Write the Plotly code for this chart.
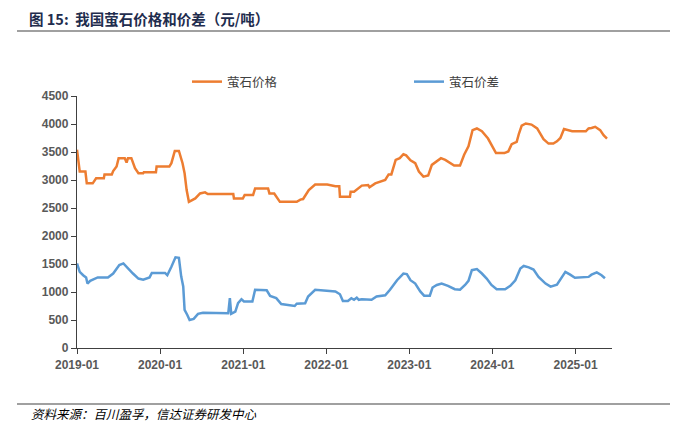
import plotly.graph_objects as go

price_dates = [
    "2019-01-01", "2019-01-13", "2019-02-07", "2019-02-13", "2019-03-11", "2019-03-26", "2019-04-29",
    "2019-05-02", "2019-06-03", "2019-06-09", "2019-06-24", "2019-07-03", "2019-07-30", "2019-08-07",
    "2019-08-13", "2019-08-28", "2019-09-13", "2019-09-28", "2019-10-19", "2019-10-22", "2019-12-14",
    "2019-12-17", "2020-02-11", "2020-02-20", "2020-03-06", "2020-03-24", "2020-04-09", "2020-04-18",
    "2020-04-27", "2020-05-07", "2020-06-04", "2020-06-25", "2020-07-17", "2020-07-29", "2020-11-18",
    "2020-11-21", "2020-12-30", "2021-01-07", "2021-02-13", "2021-02-22", "2021-04-20", "2021-04-26",
    "2021-05-17", "2021-06-11", "2021-08-24", "2021-09-09", "2021-09-21", "2021-10-16", "2021-11-13",
    "2022-01-05", "2022-02-10", "2022-02-27", "2022-03-02", "2022-04-15", "2022-04-18", "2022-05-03",
    "2022-06-06", "2022-07-04", "2022-07-10", "2022-08-04", "2022-09-17", "2022-10-02", "2022-10-14",
    "2022-11-02", "2022-11-20", "2022-12-06", "2022-12-18", "2023-01-06", "2023-01-27", "2023-02-12",
    "2023-03-04", "2023-03-25", "2023-04-10", "2023-05-02", "2023-05-20", "2023-06-08", "2023-06-29",
    "2023-07-17", "2023-08-12", "2023-08-30", "2023-09-18", "2023-10-06", "2023-10-25", "2023-11-16",
    "2023-12-13", "2023-12-28", "2024-01-17", "2024-02-23", "2024-03-11", "2024-03-26", "2024-04-17",
    "2024-04-27", "2024-05-09", "2024-05-27", "2024-06-21", "2024-07-16", "2024-07-28", "2024-08-13",
    "2024-09-04", "2024-09-25", "2024-10-11", "2024-10-26", "2024-11-11", "2024-12-02", "2024-12-17",
    "2025-02-15", "2025-02-27", "2025-03-12", "2025-03-28", "2025-04-19", "2025-05-04", "2025-05-19",
]
price_values = [
    3540, 3150, 3150, 2940, 2940, 3030, 3030,
    3100, 3100, 3160, 3240, 3390, 3390, 3310,
    3390, 3390, 3210, 3120, 3120, 3140, 3140,
    3240, 3240, 3300, 3520, 3520, 3300, 3120,
    2820, 2610, 2670, 2760, 2780, 2750, 2750,
    2670, 2670, 2730, 2730, 2850, 2850, 2760,
    2760, 2610, 2610, 2650, 2660, 2820, 2920,
    2920, 2890, 2890, 2700, 2700, 2790, 2790,
    2900, 2910, 2870, 2940, 3000, 3100, 3100,
    3360, 3390, 3460, 3440, 3350, 3300, 3150,
    3060, 3080, 3270, 3330, 3390, 3360, 3300,
    3260, 3260, 3450, 3600, 3890, 3920, 3870,
    3740, 3620, 3480, 3480, 3510, 3640, 3680,
    3830, 3970, 4010, 3990, 3920, 3830, 3730,
    3650, 3650, 3690, 3750, 3910, 3890, 3870,
    3870, 3920, 3930, 3950, 3890, 3800, 3740,
]

spread_dates = [
    "2019-01-01", "2019-01-13", "2019-01-28", "2019-02-10", "2019-02-16", "2019-02-28", "2019-04-02",
    "2019-05-17", "2019-06-09", "2019-07-06", "2019-07-24", "2019-08-13", "2019-09-04", "2019-09-28",
    "2019-10-19", "2019-11-16", "2019-11-26", "2020-01-23", "2020-02-02", "2020-02-20", "2020-03-09",
    "2020-03-24", "2020-04-03", "2020-04-12", "2020-04-18", "2020-04-30", "2020-05-10", "2020-05-28",
    "2020-06-16", "2020-07-08", "2020-10-21", "2020-10-27", "2020-11-03", "2020-11-09", "2020-11-27",
    "2020-12-09", "2020-12-24", "2021-01-04", "2021-02-10", "2021-02-22", "2021-04-14", "2021-04-29",
    "2021-05-26", "2021-06-17", "2021-08-15", "2021-08-24", "2021-09-30", "2021-10-13", "2021-11-13",
    "2021-12-25", "2022-02-10", "2022-03-02", "2022-03-15", "2022-04-06", "2022-04-21", "2022-05-03",
    "2022-05-15", "2022-05-24", "2022-06-06", "2022-07-19", "2022-08-10", "2022-09-17", "2022-10-08",
    "2022-11-08", "2022-12-06", "2022-12-21", "2023-01-06", "2023-01-27", "2023-02-18", "2023-03-07",
    "2023-04-01", "2023-04-13", "2023-05-02", "2023-05-23", "2023-06-20", "2023-07-20", "2023-08-12",
    "2023-09-03", "2023-09-18", "2023-10-03", "2023-10-25", "2023-11-16", "2023-12-07", "2023-12-28",
    "2024-01-20", "2024-02-26", "2024-03-20", "2024-04-11", "2024-05-03", "2024-05-18", "2024-06-09",
    "2024-06-30", "2024-07-22", "2024-08-22", "2024-09-13", "2024-10-11", "2024-11-02", "2024-11-17",
    "2024-12-08", "2024-12-29", "2025-02-27", "2025-03-12", "2025-04-04", "2025-04-25", "2025-05-10",
]
spread_values = [
    1510, 1360, 1300, 1260, 1150, 1200, 1260,
    1260, 1330, 1480, 1510, 1420, 1330, 1240,
    1220, 1260, 1340, 1340, 1300, 1450, 1620,
    1610, 1280, 1100, 680, 590, 500, 520,
    610, 630, 630, 620, 890, 610, 650,
    800, 870, 830, 830, 1040, 1030, 930,
    890, 785, 750, 790, 800, 920, 1040,
    1030, 1010, 960, 840, 840, 890, 860,
    900, 860, 870, 860, 920, 940, 1040,
    1210, 1330, 1320, 1210, 1150, 1010, 935,
    935, 1080, 1125, 1150, 1110, 1050, 1040,
    1125, 1200, 1390, 1410, 1330, 1240, 1125,
    1050, 1050, 1110, 1210, 1420, 1465, 1440,
    1400, 1270, 1150, 1095, 1130, 1270, 1360,
    1310, 1255, 1270, 1310, 1350, 1300, 1245,
]

series_names = ["萤石价格", "萤石价差"]
x_ticks = ["2019-01-01", "2020-01-01", "2021-01-01", "2022-01-01", "2023-01-01", "2024-01-01", "2025-01-01"]
x_tick_labels = ["2019-01", "2020-01", "2021-01", "2022-01", "2023-01", "2024-01", "2025-01"]
y_ticks = [0, 500, 1000, 1500, 2000, 2500, 3000, 3500, 4000, 4500]

ORANGE = "#ED7D31"
BLUE = "#5B9BD5"
CJK = "Noto Sans CJK SC"

# plot area in pixels
PL, PR, PT, PB = 77, 612, 96, 348
PW, PH = PR - PL, PB - PT


def px(x):
    return (x - PL) / PW


def py(y):
    return (PB - y) / PH


fig = go.Figure()
fig.add_trace(go.Scatter(x=price_dates, y=price_values, mode="lines", name=series_names[0],
                         line=dict(color=ORANGE, width=2.5), legend="legend"))
fig.add_trace(go.Scatter(x=spread_dates, y=spread_values, mode="lines", name=series_names[1],
                         line=dict(color=BLUE, width=2.5), legend="legend2"))

tick_font = dict(family="Liberation Sans, Arial", size=12, color="#595959", weight="bold")
leg_font = dict(family=CJK, size=12.5, color="#404040")

fig.update_layout(
    width=687, height=433,
    margin=dict(l=PL, r=687 - PR, t=PT, b=433 - PB),
    paper_bgcolor="white", plot_bgcolor="white",
    showlegend=True,
    legend=dict(orientation="h", x=px(187), y=py(82), xanchor="left", yanchor="middle",
                font=leg_font, itemwidth=30, bgcolor="rgba(0,0,0,0)"),
    legend2=dict(orientation="h", x=px(409), y=py(82), xanchor="left", yanchor="middle",
                 font=leg_font, itemwidth=30, bgcolor="rgba(0,0,0,0)"),
    xaxis=dict(type="date", range=["2019-01-01", "2025-06-10"],
               tickvals=x_ticks, ticktext=x_tick_labels,
               showline=True, linecolor="#404040", linewidth=1.3,
               ticks="outside", ticklen=5, tickcolor="#404040",
               showgrid=False, zeroline=False, tickfont=tick_font),
    yaxis=dict(range=[0, 4500], tickvals=y_ticks,
               showline=True, linecolor="#404040", linewidth=1.3,
               ticks="outside", ticklen=5, tickcolor="#404040",
               showgrid=False, zeroline=False, tickfont=tick_font),
)

fig.add_annotation(xref="paper", yref="paper",
                   x=px(27), y=py(18), xanchor="left", yanchor="middle",
                   text="<b>图 15:  我国萤石价格和价差（元/吨）</b>", showarrow=False,
                   font=dict(family=CJK, size=14.5, color="#1F2D4E"))
fig.add_annotation(xref="paper", yref="paper",
                   x=px(29), y=py(413), xanchor="left", yanchor="middle",
                   text="<i>资料来源：百川盈孚，信达证券研发中心</i>", showarrow=False,
                   font=dict(family=CJK, size=12.5, color="#000000"))

fig.add_shape(type="line", xref="paper", yref="paper",
              x0=px(17), x1=px(670), y0=py(31), y1=py(31),
              line=dict(color="#808080", width=1.5))
fig.add_shape(type="line", xref="paper", yref="paper",
              x0=px(17), x1=px(670), y0=py(404), y1=py(404),
              line=dict(color="#808080", width=1.5))

fig.write_html("out.html", config={"displayModeBar": False},
               post_script="document.body.style.margin='0';")
